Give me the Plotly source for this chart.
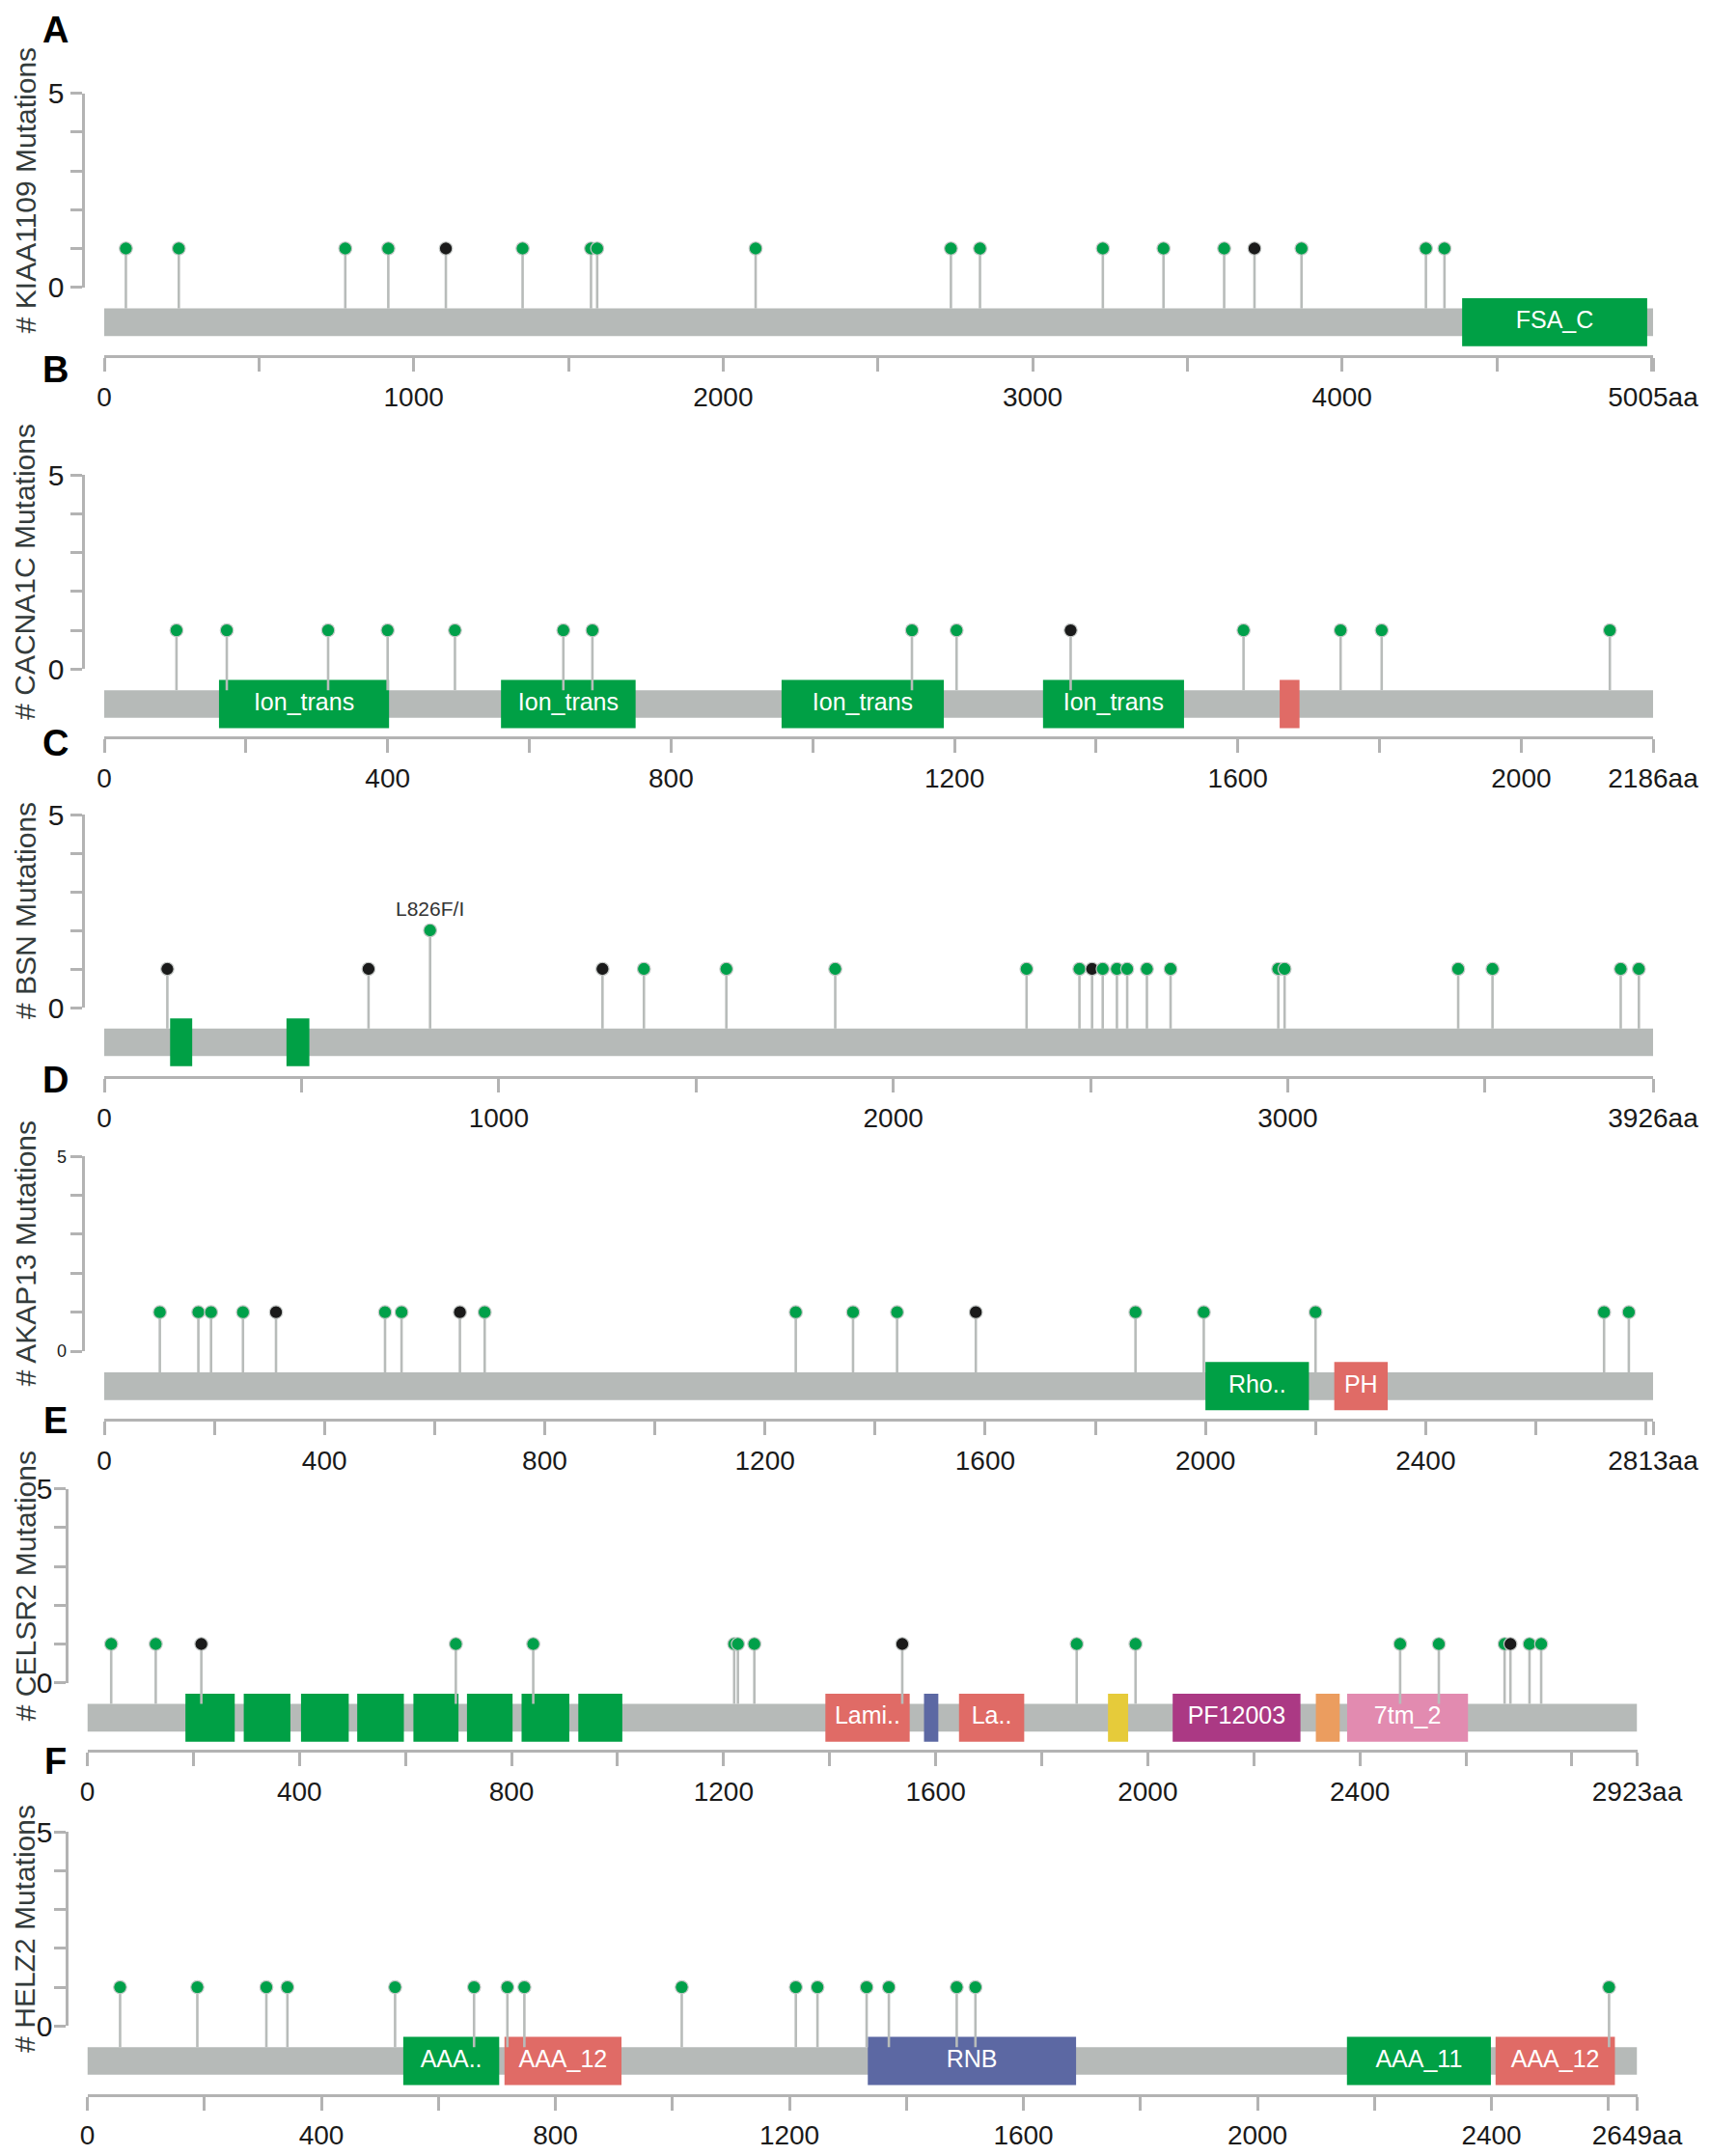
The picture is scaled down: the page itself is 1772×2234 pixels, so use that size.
"""
Mutation lollipop panels (A-F) for six genes
Stems + dots on top of a grey protein track with Pfam domains
"""

import plotly.graph_objects as go

# ---- data -------------------------------------------------------------

genes = ["KIAA1109", "CACNA1C", "BSN", "AKAP13", "CELSR2", "HELZ2"]
panel_letters = ["A", "B", "C", "D", "E", "F"]

kiaa1109_len = 5005
kiaa1109_pos = [70, 241, 779, 918, 1104, 1352, 1573, 1593, 2105, 2736, 2830,
                3227, 3423, 3619, 3717, 3869, 4271, 4331]
kiaa1109_count = [1, 1, 1, 1, 1, 1, 1, 1, 1, 1, 1, 1, 1, 1, 1, 1, 1, 1]
kiaa1109_type = ["mis", "mis", "mis", "mis", "trunc", "mis", "mis", "mis", "mis",
                 "mis", "mis", "mis", "mis", "mis", "trunc", "mis", "mis", "mis"]
kiaa1109_dom_name = ["FSA_C"]
kiaa1109_dom_start = [4388]
kiaa1109_dom_end = [4986]
kiaa1109_dom_kind = ["green"]
kiaa1109_tickvals = [0, 1000, 2000, 3000, 4000, 5005]
kiaa1109_ticktext = ["0", "1000", "2000", "3000", "4000", "5005aa"]

cacna1c_len = 2186
cacna1c_pos = [102, 173, 316, 400, 495, 648, 689, 1140, 1203, 1364, 1608, 1745,
               1803, 2125]
cacna1c_count = [1, 1, 1, 1, 1, 1, 1, 1, 1, 1, 1, 1, 1, 1]
cacna1c_type = ["mis", "mis", "mis", "mis", "mis", "mis", "mis", "mis", "mis",
                "trunc", "mis", "mis", "mis", "mis"]
cacna1c_dom_name = ["Ion_trans", "Ion_trans", "Ion_trans", "Ion_trans", ""]
cacna1c_dom_start = [162, 560, 956, 1325, 1659]
cacna1c_dom_end = [402, 750, 1185, 1524, 1687]
cacna1c_dom_kind = ["green", "green", "green", "green", "red"]
cacna1c_tickvals = [0, 400, 800, 1200, 1600, 2000, 2186]
cacna1c_ticktext = ["0", "400", "800", "1200", "1600", "2000", "2186aa"]

bsn_len = 3926
bsn_pos = [160, 670, 826, 1263, 1368, 1577, 1853, 2338, 2472, 2504, 2531, 2567,
           2593, 2643, 2703, 2976, 2992, 3432, 3519, 3844, 3890]
bsn_count = [1, 1, 2, 1, 1, 1, 1, 1, 1, 1, 1, 1, 1, 1, 1, 1, 1, 1, 1, 1, 1]
bsn_type = ["trunc", "trunc", "mis", "trunc", "mis", "mis", "mis", "mis", "mis",
            "trunc", "mis", "mis", "mis", "mis", "mis", "mis", "mis", "mis",
            "mis", "mis", "mis"]
bsn_label_pos = [826]
bsn_label_count = [2]
bsn_label_text = ["L826F/I"]
bsn_dom_name = ["", ""]
bsn_dom_start = [167, 462]
bsn_dom_end = [223, 520]
bsn_dom_kind = ["green", "green"]
bsn_tickvals = [0, 1000, 2000, 3000, 3926]
bsn_ticktext = ["0", "1000", "2000", "3000", "3926aa"]

akap13_len = 2813
akap13_pos = [101, 171, 194, 252, 312, 510, 540, 646, 691, 1256, 1360, 1440,
              1583, 1873, 1997, 2200, 2724, 2769]
akap13_count = [1, 1, 1, 1, 1, 1, 1, 1, 1, 1, 1, 1, 1, 1, 1, 1, 1, 1]
akap13_type = ["mis", "mis", "mis", "mis", "trunc", "mis", "mis", "trunc", "mis",
               "mis", "mis", "mis", "trunc", "mis", "mis", "mis", "mis", "mis"]
akap13_dom_name = ["Rho..", "PH"]
akap13_dom_start = [2000, 2234]
akap13_dom_end = [2188, 2331]
akap13_dom_kind = ["green", "red"]
akap13_tickvals = [0, 400, 800, 1200, 1600, 2000, 2400, 2813]
akap13_ticktext = ["0", "400", "800", "1200", "1600", "2000", "2400", "2813aa"]

celsr2_len = 2923
celsr2_pos = [45, 129, 215, 695, 841, 1220, 1227, 1258, 1537, 1866, 1977, 2476,
              2549, 2673, 2684, 2720, 2742]
celsr2_count = [1, 1, 1, 1, 1, 1, 1, 1, 1, 1, 1, 1, 1, 1, 1, 1, 1]
celsr2_type = ["mis", "mis", "trunc", "mis", "mis", "mis", "mis", "mis", "trunc",
               "mis", "mis", "mis", "mis", "mis", "trunc", "mis", "mis"]
celsr2_dom_name = ["", "", "", "", "", "", "", "", "Lami..", "", "La..", "",
                   "PF12003", "", "7tm_2"]
celsr2_dom_start = [185, 295, 403, 509, 615, 716, 819, 926, 1392, 1578, 1644,
                    1925, 2047, 2317, 2376]
celsr2_dom_end = [278, 383, 493, 597, 700, 802, 909, 1009, 1551, 1605, 1767,
                  1963, 2288, 2362, 2604]
celsr2_dom_kind = ["green", "green", "green", "green", "green", "green", "green",
                   "green", "red", "blue", "red", "yellow", "magenta", "orange",
                   "pink"]
celsr2_tickvals = [0, 400, 800, 1200, 1600, 2000, 2400, 2923]
celsr2_ticktext = ["0", "400", "800", "1200", "1600", "2000", "2400", "2923aa"]

helz2_len = 2649
helz2_pos = [56, 188, 306, 342, 526, 661, 718, 747, 1016, 1211, 1248, 1332, 1370,
             1486, 1518, 2601]
helz2_count = [1, 1, 1, 1, 1, 1, 1, 1, 1, 1, 1, 1, 1, 1, 1, 1]
helz2_type = ["mis", "mis", "mis", "mis", "mis", "mis", "mis", "mis", "mis", "mis",
              "mis", "mis", "mis", "mis", "mis", "mis"]
helz2_dom_name = ["AAA..", "AAA_12", "RNB", "AAA_11", "AAA_12"]
helz2_dom_start = [540, 713, 1334, 2153, 2407]
helz2_dom_end = [704, 913, 1690, 2399, 2611]
helz2_dom_kind = ["green", "red", "blue", "green", "red"]
helz2_tickvals = [0, 400, 800, 1200, 1600, 2000, 2400, 2649]
helz2_ticktext = ["0", "400", "800", "1200", "1600", "2000", "2400", "2649aa"]

# ---- style / layout ---------------------------------------------------

# the page body keeps its default 8px margin, so the figure is drawn
# 8px smaller and every position below is measured in window pixels
OFF = 8
W, H = 1772 - OFF, 2234 - OFF
FONT = "Liberation Sans, Arial, sans-serif"
AXIS_GREY = "#b3b3b3"
TRACK_GREY = "#b6bab8"
STEM_GREY = "#b8bcba"
DOT_COLORS = {"mis": "#00a04a", "trunc": "#1a1a1a"}
DOMAIN_COLORS = {
    "green": "#00a045", "red": "#e06b66", "blue": "#5c68a3",
    "yellow": "#e6cb3a", "magenta": "#ab3984", "orange": "#eb9d5f",
    "pink": "#e28bb0",
}

# pixel geometry of each panel: y of count 5, y of count 0, x-axis line,
# panel letter y, y-axis line x, x-axis start/end, minor tick step,
# y tick font size and y tick label standoff
panels = [
    dict(y5=96.7, y0=297.7, axis=369.0, letter=31, yline=86, x0=108, x1=1713, step=500, ysize=30, ystand=0),
    dict(y5=492.3, y0=693.3, axis=764.3, letter=383, yline=86, x0=108, x1=1713, step=200, ysize=30, ystand=0),
    dict(y5=844.0, y0=1044.0, axis=1116.0, letter=770, yline=86, x0=108, x1=1713, step=500, ysize=30, ystand=0),
    dict(y5=1198.3, y0=1400.0, axis=1471.0, letter=1119, yline=86, x0=108, x1=1713, step=200, ysize=18, ystand=0),
    dict(y5=1542.7, y0=1743.7, axis=1814.3, letter=1472, yline=69, x0=90.5, x1=1696.5, step=200, ysize=30, ystand=-5),
    dict(y5=1898.3, y0=2099.3, axis=2170.7, letter=1825, yline=69, x0=90.5, x1=1696.5, step=200, ysize=30, ystand=-5),
]

gene_data = [
    (kiaa1109_len, kiaa1109_pos, kiaa1109_count, kiaa1109_type, kiaa1109_dom_name,
     kiaa1109_dom_start, kiaa1109_dom_end, kiaa1109_dom_kind, kiaa1109_tickvals, kiaa1109_ticktext),
    (cacna1c_len, cacna1c_pos, cacna1c_count, cacna1c_type, cacna1c_dom_name,
     cacna1c_dom_start, cacna1c_dom_end, cacna1c_dom_kind, cacna1c_tickvals, cacna1c_ticktext),
    (bsn_len, bsn_pos, bsn_count, bsn_type, bsn_dom_name,
     bsn_dom_start, bsn_dom_end, bsn_dom_kind, bsn_tickvals, bsn_ticktext),
    (akap13_len, akap13_pos, akap13_count, akap13_type, akap13_dom_name,
     akap13_dom_start, akap13_dom_end, akap13_dom_kind, akap13_tickvals, akap13_ticktext),
    (celsr2_len, celsr2_pos, celsr2_count, celsr2_type, celsr2_dom_name,
     celsr2_dom_start, celsr2_dom_end, celsr2_dom_kind, celsr2_tickvals, celsr2_ticktext),
    (helz2_len, helz2_pos, helz2_count, helz2_type, helz2_dom_name,
     helz2_dom_start, helz2_dom_end, helz2_dom_kind, helz2_tickvals, helz2_ticktext),
]

# track geometry in count units (below the 0 line)
TRACK_CENTER = -0.9
TRACK_H = 0.71
DOMAIN_H = 1.24


def fy(py):
    return 1 - (py - OFF) / H


def fx(px):
    return (px - OFF) / W


fig = go.Figure()
layout = dict(
    width=W, height=H,
    margin=dict(l=0, r=0, t=0, b=0),
    paper_bgcolor="white", plot_bgcolor="rgba(0,0,0,0)",
    showlegend=False, barmode="overlay",
    font=dict(family=FONT, color="#1a1a1a"),
)
annotations = []

for i, (gene, letter, geo, data) in enumerate(zip(genes, panel_letters, panels, gene_data)):
    length, pos, count, mtype, dname, dstart, dend, dkind, tickvals, ticktext = data
    k = i + 1
    xa = "x%d" % k
    yb = "y%d" % k          # track + lollipops
    ya = "y%d" % (k + 6)    # visible count axis 0..5
    xkey = "xaxis" if k == 1 else "xaxis%d" % k
    ybkey = "yaxis" if k == 1 else "yaxis%d" % k
    yakey = "yaxis%d" % (k + 6)

    unit = (geo["y0"] - geo["y5"]) / 5.0
    bottom_px = geo["axis"] - 6
    ymin = -(bottom_px - geo["y0"]) / unit

    # invisible trace so the count axis gets drawn (added first, sits underneath)
    fig.add_trace(go.Scatter(
        x=[0], y=[0], mode="markers", marker=dict(opacity=0),
        hoverinfo="skip", xaxis=xa, yaxis=ya,
    ))

    # protein track
    fig.add_trace(go.Bar(
        x=[length], base=[0], y=[TRACK_CENTER], width=[TRACK_H], orientation="h",
        marker=dict(color=TRACK_GREY, line=dict(width=0)),
        hoverinfo="skip", xaxis=xa, yaxis=yb,
    ))

    # stems
    sx, sy = [], []
    for p, c in zip(pos, count):
        sx += [p, p, None]
        sy += [TRACK_CENTER + TRACK_H / 2, c, None]
    fig.add_trace(go.Scatter(
        x=sx, y=sy, mode="lines", line=dict(color=STEM_GREY, width=2.6),
        hoverinfo="skip", xaxis=xa, yaxis=yb,
    ))

    # domains
    fig.add_trace(go.Bar(
        x=[e - s for s, e in zip(dstart, dend)], base=dstart,
        y=[TRACK_CENTER] * len(dstart), width=[DOMAIN_H] * len(dstart),
        orientation="h",
        marker=dict(color=[DOMAIN_COLORS[c] for c in dkind], line=dict(width=0)),
        hovertext=dname, hoverinfo="text", xaxis=xa, yaxis=yb,
    ))
    fig.add_trace(go.Scatter(
        x=[(s + e) / 2 for s, e in zip(dstart, dend)],
        y=[TRACK_CENTER] * len(dstart), text=dname, mode="text",
        textposition="middle center",
        textfont=dict(family=FONT, size=25, color="white"),
        hoverinfo="skip", xaxis=xa, yaxis=yb,
    ))

    # dots
    fig.add_trace(go.Scatter(
        x=pos, y=count, mode="markers",
        marker=dict(size=13.5, color=[DOT_COLORS[t] for t in mtype],
                    line=dict(color="#c4c8c6", width=1.2)),
        hovertemplate=gene + " %{x}<extra></extra>",
        xaxis=xa, yaxis=yb,
    ))

    if gene == "BSN":
        for lp, lc, lt in zip(bsn_label_pos, bsn_label_count, bsn_label_text):
            annotations.append(dict(
                text=lt, x=lp, y=lc, xref=xa, yref=yb, showarrow=False,
                xanchor="center", yanchor="middle", yshift=23,
                font=dict(family=FONT, size=21, color="#333333"),
            ))

    layout[xkey] = dict(
        domain=[fx(geo["x0"]), fx(geo["x1"])], range=[0, length],
        anchor="free", position=fy(geo["axis"]),
        showline=True, linecolor=AXIS_GREY, linewidth=3,
        showgrid=False, zeroline=False,
        tickmode="array", tickvals=tickvals, ticktext=ticktext,
        ticks="outside", ticklen=14, tickwidth=3, tickcolor=AXIS_GREY,
        ticklabelstandoff=2,
        minor=dict(tick0=0, dtick=geo["step"], ticks="outside", ticklen=14,
                   tickwidth=3, tickcolor=AXIS_GREY, showgrid=False),
        tickfont=dict(family=FONT, size=28, color="#1a1a1a"),
        fixedrange=True, automargin=False,
    )
    layout[ybkey] = dict(
        domain=[fy(bottom_px), fy(geo["y5"] - 12)],
        range=[ymin, 5 + 12 / unit], visible=False, anchor=xa,
        fixedrange=True,
    )
    layout[yakey] = dict(
        domain=[fy(geo["y0"]), fy(geo["y5"])], range=[0, 5],
        anchor="free", position=fx(geo["yline"]), side="left",
        showline=True, linecolor=AXIS_GREY, linewidth=3,
        showgrid=False, zeroline=False,
        tickmode="array", tickvals=[0, 1, 2, 3, 4, 5],
        ticktext=["0", "", "", "", "", "5"],
        ticks="outside", ticklen=12.5, tickwidth=3, tickcolor=AXIS_GREY,
        ticklabelstandoff=geo["ystand"],
        tickfont=dict(family=FONT, size=geo["ysize"], color="#1a1a1a"),
        fixedrange=True, automargin=False,
    )

    # y title
    annotations.append(dict(
        text="# %s Mutations" % gene, textangle=-90,
        x=fx(26), y=fy((geo["y0"] + geo["y5"]) / 2), xref="paper", yref="paper",
        xanchor="center", yanchor="middle", showarrow=False, borderpad=0,
        font=dict(family=FONT, size=30, color="#333b3b"),
    ))
    # panel letter
    annotations.append(dict(
        text="<b>%s</b>" % letter, x=fx(57), y=fy(geo["letter"]),
        xref="paper", yref="paper", xanchor="center", yanchor="middle",
        showarrow=False, borderpad=0,
        font=dict(family=FONT, size=38, color="black"),
    ))

layout["annotations"] = annotations
fig.update_layout(**layout)

fig.write_html("out.html")
